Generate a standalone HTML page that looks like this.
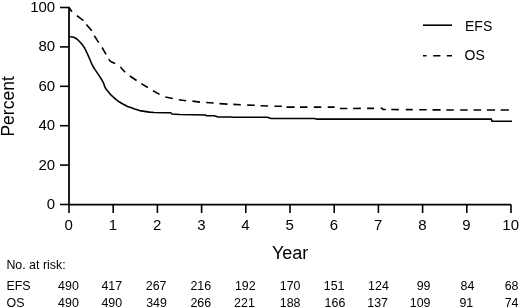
<!DOCTYPE html>
<html><head><meta charset="utf-8"><style>
html,body{margin:0;padding:0;background:#fff;}
body{width:520px;height:308px;overflow:hidden;}
svg{display:block;will-change:transform;font-family:"Liberation Sans",sans-serif;fill:#000;}
</style></head><body>
<svg width="520" height="308" viewBox="0 0 520 308">
<path d="M69.0,7.1V204.5H511.0" fill="none" stroke="#000" stroke-width="1.75"/>
<line x1="60" y1="204.50" x2="69.0" y2="204.50" stroke="#000" stroke-width="1.6"/>
<text transform="translate(55.2,209.00) scale(1,1)" text-anchor="end" font-size="15">0</text>
<line x1="60" y1="165.10" x2="69.0" y2="165.10" stroke="#000" stroke-width="1.6"/>
<text transform="translate(55.2,169.60) scale(1,1)" text-anchor="end" font-size="15">20</text>
<line x1="60" y1="125.70" x2="69.0" y2="125.70" stroke="#000" stroke-width="1.6"/>
<text transform="translate(55.2,130.20) scale(1,1)" text-anchor="end" font-size="15">40</text>
<line x1="60" y1="86.30" x2="69.0" y2="86.30" stroke="#000" stroke-width="1.6"/>
<text transform="translate(55.2,90.80) scale(1,1)" text-anchor="end" font-size="15">60</text>
<line x1="60" y1="46.90" x2="69.0" y2="46.90" stroke="#000" stroke-width="1.6"/>
<text transform="translate(55.2,51.40) scale(1,1)" text-anchor="end" font-size="15">80</text>
<line x1="60" y1="7.50" x2="69.0" y2="7.50" stroke="#000" stroke-width="1.6"/>
<text transform="translate(55.2,12.00) scale(1,1)" text-anchor="end" font-size="15">100</text>
<line x1="69.00" y1="204.5" x2="69.00" y2="213" stroke="#000" stroke-width="1.6"/>
<text transform="translate(68.70,229.6) scale(1,1)" text-anchor="middle" font-size="15">0</text>
<line x1="113.20" y1="204.5" x2="113.20" y2="213" stroke="#000" stroke-width="1.6"/>
<text transform="translate(112.90,229.6) scale(1,1)" text-anchor="middle" font-size="15">1</text>
<line x1="157.40" y1="204.5" x2="157.40" y2="213" stroke="#000" stroke-width="1.6"/>
<text transform="translate(157.10,229.6) scale(1,1)" text-anchor="middle" font-size="15">2</text>
<line x1="201.60" y1="204.5" x2="201.60" y2="213" stroke="#000" stroke-width="1.6"/>
<text transform="translate(201.30,229.6) scale(1,1)" text-anchor="middle" font-size="15">3</text>
<line x1="245.80" y1="204.5" x2="245.80" y2="213" stroke="#000" stroke-width="1.6"/>
<text transform="translate(245.50,229.6) scale(1,1)" text-anchor="middle" font-size="15">4</text>
<line x1="290.00" y1="204.5" x2="290.00" y2="213" stroke="#000" stroke-width="1.6"/>
<text transform="translate(289.70,229.6) scale(1,1)" text-anchor="middle" font-size="15">5</text>
<line x1="334.20" y1="204.5" x2="334.20" y2="213" stroke="#000" stroke-width="1.6"/>
<text transform="translate(333.90,229.6) scale(1,1)" text-anchor="middle" font-size="15">6</text>
<line x1="378.40" y1="204.5" x2="378.40" y2="213" stroke="#000" stroke-width="1.6"/>
<text transform="translate(378.10,229.6) scale(1,1)" text-anchor="middle" font-size="15">7</text>
<line x1="422.60" y1="204.5" x2="422.60" y2="213" stroke="#000" stroke-width="1.6"/>
<text transform="translate(422.30,229.6) scale(1,1)" text-anchor="middle" font-size="15">8</text>
<line x1="466.80" y1="204.5" x2="466.80" y2="213" stroke="#000" stroke-width="1.6"/>
<text transform="translate(466.50,229.6) scale(1,1)" text-anchor="middle" font-size="15">9</text>
<line x1="511.00" y1="204.5" x2="511.00" y2="213" stroke="#000" stroke-width="1.6"/>
<text transform="translate(510.70,229.6) scale(1,1)" text-anchor="middle" font-size="15">10</text>
<text x="290.1" y="258.7" text-anchor="middle" font-size="18">Year</text>
<text transform="translate(13.8,106.4) rotate(-90)" x="0" y="0" text-anchor="middle" font-size="17.5">Percent</text>
<polyline points="69.00,36.80 72.90,37.00 75.30,38.00 77.70,39.70 80.20,42.20 82.60,45.10 84.60,48.00 86.00,50.90 87.50,54.00 89.00,57.30 90.60,61.20 92.60,65.80 95.00,69.60 97.10,72.60 99.10,75.60 101.00,78.50 102.40,80.80 103.50,83.00 104.40,85.60 105.50,88.20 107.00,90.30 108.30,91.70 110.70,94.70 113.60,97.30 116.50,99.80 119.10,101.80 121.90,103.50 125.30,105.20 127.40,106.50 130.80,107.50 134.70,109.10 139.60,110.60 144.50,111.40 149.40,112.10 154.20,112.50 164.00,112.80 170.80,112.80 172.00,114.00 179.70,114.50 205.10,115.00 207.00,115.80 214.20,115.80 218.10,117.00 231.00,117.00 232.50,117.30 267.30,117.30 271.20,118.50 314.20,118.50 316.50,119.10 491.40,119.10 491.80,121.20 512.00,121.20" fill="none" stroke="#000" stroke-width="1.6" stroke-linejoin="round"/>
<path d="M68.60,6.93 L69.00,7.50 L72.00,11.80 M76.90,15.70 L83.50,20.60 M86.40,24.40 L91.80,30.80 M94.30,35.80 L98.70,42.60 M102.10,47.50 L106.00,54.30 M108.80,59.20 L109.70,60.70 L111.70,62.10 L115.10,63.60 M120.40,67.00 L125.10,72.30 M129.80,76.00 L136.60,80.50 M141.30,83.60 L147.80,87.50 M153.00,90.70 L159.60,94.40 M165.30,97.00 L172.80,98.50 M178.80,99.70 L186.10,100.70 M192.40,101.10 L200.00,102.10 M206.20,102.50 L213.70,103.00 M219.40,103.60 L227.50,104.10 M233.30,104.40 L240.80,104.80 M247.20,105.10 L254.80,105.20 M260.60,105.70 L268.10,106.00 M274.40,106.20 L281.90,106.20 M286.50,107.10 L294.60,107.10 M300.00,107.10 L307.50,107.10 M313.80,107.10 L321.30,107.10 M327.70,107.10 L334.60,107.10 M339.80,108.49 L347.30,108.46 M353.10,108.43 L360.80,108.40 M367.10,108.37 L374.00,108.34 M380.60,108.31 L382.00,108.30 L383.00,109.50 L385.80,109.52 M391.30,109.54 L398.80,109.59 M405.80,109.62 L412.70,109.66 M419.20,109.70 L420.00,109.70 L426.70,109.77 M432.50,109.83 L440.60,109.91 M446.30,109.96 L450.00,110.00 L453.80,110.00 M460.20,110.00 L467.70,110.00 M473.50,110.00 L481.20,110.00 M486.90,110.00 L495.10,110.00 M500.70,110.00 L508.90,110.00" fill="none" stroke="#000" stroke-width="1.6" stroke-linejoin="round"/>
<line x1="423" y1="25.2" x2="452" y2="25.2" stroke="#000" stroke-width="1.6"/>
<path d="M423,55.8H426.5M433.2,55.8H440.4M446.8,55.8H452" stroke="#000" stroke-width="1.6"/>
<text x="465" y="31.3" font-size="14">EFS</text>
<text x="464.5" y="60.3" font-size="14">OS</text>
<text x="6.4" y="268.8" font-size="12.4">No. at risk:</text>
<text x="6.5" y="290.0" font-size="12.4">EFS</text>
<text x="6.5" y="306.5" font-size="12.4">OS</text>
<text x="78.80" y="290.0" text-anchor="end" font-size="12.4">490</text>
<text x="78.80" y="306.5" text-anchor="end" font-size="12.4">490</text>
<text x="122.10" y="290.0" text-anchor="end" font-size="12.4">417</text>
<text x="122.10" y="306.5" text-anchor="end" font-size="12.4">490</text>
<text x="166.50" y="290.0" text-anchor="end" font-size="12.4">267</text>
<text x="166.90" y="306.5" text-anchor="end" font-size="12.4">349</text>
<text x="211.10" y="290.0" text-anchor="end" font-size="12.4">216</text>
<text x="211.10" y="306.5" text-anchor="end" font-size="12.4">266</text>
<text x="255.60" y="290.0" text-anchor="end" font-size="12.4">192</text>
<text x="254.80" y="306.5" text-anchor="end" font-size="12.4">221</text>
<text x="300.50" y="290.0" text-anchor="end" font-size="12.4">170</text>
<text x="300.50" y="306.5" text-anchor="end" font-size="12.4">188</text>
<text x="344.50" y="290.0" text-anchor="end" font-size="12.4">151</text>
<text x="345.30" y="306.5" text-anchor="end" font-size="12.4">166</text>
<text x="388.80" y="290.0" text-anchor="end" font-size="12.4">124</text>
<text x="388.00" y="306.5" text-anchor="end" font-size="12.4">137</text>
<text x="430.50" y="290.0" text-anchor="end" font-size="12.4">99</text>
<text x="430.50" y="306.5" text-anchor="end" font-size="12.4">109</text>
<text x="474.30" y="290.0" text-anchor="end" font-size="12.4">84</text>
<text x="473.20" y="306.5" text-anchor="end" font-size="12.4">91</text>
<text x="518.50" y="290.0" text-anchor="end" font-size="12.4">68</text>
<text x="518.50" y="306.5" text-anchor="end" font-size="12.4">74</text>
</svg>
</body></html>
